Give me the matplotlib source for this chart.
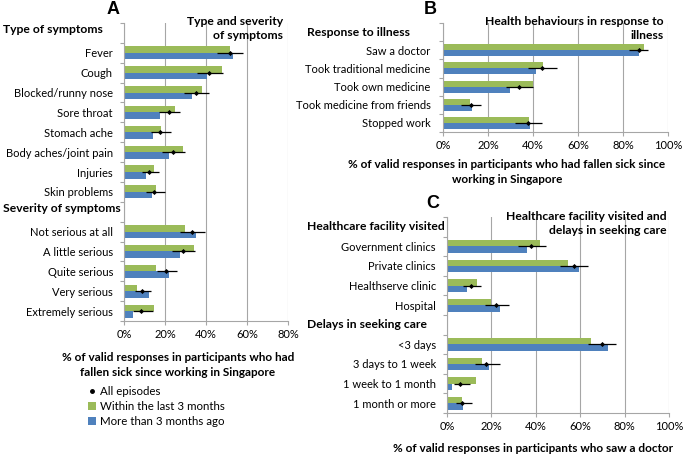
import matplotlib.pyplot as plt
from matplotlib.lines import Line2D
from matplotlib.patches import Patch
from matplotlib.ticker import FuncFormatter, MultipleLocator
from matplotlib.transforms import blended_transform_factory

plt.rcParams["font.family"] = ["Lato", "DejaVu Sans"]

GREEN = "#9bbb59"
BLUE = "#4f81bd"
GRID = "#a6a6a6"

# ---- Panel A: type and severity of symptoms (%)
a_type_cats = ["Fever", "Cough", "Blocked/runny nose", "Sore throat", "Stomach ache",
               "Body aches/joint pain", "Injuries", "Skin problems"]
a_type_recent = [51.7, 47.6, 38.0, 24.9, 18.2, 28.8, 14.5, 15.4]
a_type_older = [53.3, 40.7, 33.3, 17.6, 14.3, 22.1, 10.9, 13.8]
a_type_all = [51.7, 41.6, 35.1, 21.8, 17.6, 24.0, 12.4, 14.6]
a_type_lo = [45.5, 35.8, 29.4, 16.9, 13.0, 18.7, 8.6, 10.6]
a_type_hi = [57.9, 48.1, 41.6, 27.3, 22.8, 29.8, 17.1, 19.8]

a_sev_cats = ["Not serious at all", "A little serious", "Quite serious",
              "Very serious", "Extremely serious"]
a_sev_recent = [29.8, 34.3, 15.4, 6.2, 14.5]
a_sev_older = [35.0, 27.5, 21.8, 12.0, 4.2]
a_sev_all = [33.3, 28.6, 20.3, 8.9, 8.5]
a_sev_lo = [27.3, 23.4, 15.9, 5.4, 4.6]
a_sev_hi = [39.3, 34.6, 25.9, 13.0, 14.0]

# ---- Panel B: health behaviours (%)
b_cats = ["Saw a doctor", "Took traditional medicine", "Took own medicine",
          "Took medicine from friends", "Stopped work"]
b_recent = [89.2, 44.4, 40.0, 11.9, 38.1]
b_older = [87.0, 41.2, 29.9, 13.0, 38.5]
b_all = [87.1, 44.0, 33.6, 12.3, 37.9]
b_lo = [82.5, 37.8, 27.9, 8.1, 31.9]
b_hi = [91.1, 50.7, 40.0, 17.0, 44.1]

# ---- Panel C: facility visited and delays (%)
c_fac_cats = ["Government clinics", "Private clinics", "Healthserve clinic", "Hospital"]
c_fac_recent = [42.0, 54.5, 13.7, 19.7]
c_fac_older = [36.0, 59.3, 9.2, 23.9]
c_fac_all = [38.0, 57.0, 11.0, 21.9]
c_fac_lo = [32.0, 50.9, 7.2, 16.9]
c_fac_hi = [44.7, 63.7, 15.5, 27.9]

c_del_cats = ["<3 days", "3 days to 1 week", "1 week to 1 month", "1 month or more"]
c_del_recent = [65.0, 15.6, 13.2, 6.8]
c_del_older = [72.7, 18.9, 2.1, 7.1]
c_del_all = [69.8, 17.7, 6.0, 6.9]
c_del_lo = [63.5, 12.5, 3.0, 3.9]
c_del_hi = [76.3, 23.7, 10.2, 11.3]

W, H = 685, 454
fig = plt.figure(figsize=(W / 100, H / 100), dpi=100)


def px_axes(x0, y0, x1, y1):
    return fig.add_axes([x0 / W, 1 - y1 / H, (x1 - x0) / W, (y1 - y0) / H])


def draw_panel(ax, sections, xmax, header_x, label_pad, header_dy):
    rows, labels = [], []
    r = 0
    tr = blended_transform_factory(fig.transFigure, ax.transData)
    for header, cats, recent, older, allv, lo, hi in sections:
        ax.text(header_x / W, r + header_dy, header, transform=tr, ha="left",
                va="center", fontsize=8.7, fontweight="bold")
        r += 1
        ys = list(range(r, r + len(cats)))
        ax.barh([y - 0.165 for y in ys], recent, height=0.33, color=GREEN, zorder=2)
        ax.barh([y + 0.165 for y in ys], older, height=0.33, color=BLUE, zorder=2)
        ax.hlines(ys, lo, hi, color="black", lw=0.9, zorder=3)
        ax.plot(allv, ys, "D", color="black", ms=2.6, mew=0, zorder=4)
        rows += ys
        labels += cats
        r += len(cats)
    ax.set_ylim(r - 0.5, -0.5)
    ax.set_xlim(0, xmax)
    ax.set_yticks(rows, labels)
    ax.set_yticks([i - 0.5 for i in range(r + 1)], minor=True)
    ax.tick_params(axis="y", which="major", length=0, pad=label_pad, labelsize=8)
    ax.tick_params(axis="y", which="minor", length=3, color=GRID, width=0.8)
    ax.xaxis.set_major_locator(MultipleLocator(20))
    ax.xaxis.set_major_formatter(FuncFormatter(lambda v, _: f"{v:.0f}%"))
    ax.tick_params(axis="x", length=3, color=GRID, width=0.8, labelsize=8, pad=3)
    ax.grid(axis="x", color=GRID, lw=0.8, zorder=0)
    ax.set_axisbelow(True)
    for s in ("top", "right"):
        ax.spines[s].set_visible(False)
    for s in ("left", "bottom"):
        ax.spines[s].set_color(GRID)
        ax.spines[s].set_linewidth(0.8)


ax_a = px_axes(124, 23, 288, 321)
draw_panel(ax_a, [
    ("Type of symptoms", a_type_cats, a_type_recent, a_type_older, a_type_all, a_type_lo, a_type_hi),
    ("Severity of symptoms", a_sev_cats, a_sev_recent, a_sev_older, a_sev_all, a_sev_lo, a_sev_hi),
], 80, 3, 8, -0.15)

ax_b = px_axes(443, 23, 668, 132)
draw_panel(ax_b, [
    ("Response to illness", b_cats, b_recent, b_older, b_all, b_lo, b_hi),
], 100, 307, 9, 0)

ax_c = px_axes(447, 217, 669, 413)
draw_panel(ax_c, [
    ("Healthcare facility visited", c_fac_cats, c_fac_recent, c_fac_older, c_fac_all, c_fac_lo, c_fac_hi),
    ("Delays in seeking care", c_del_cats, c_del_recent, c_del_older, c_del_all, c_del_lo, c_del_hi),
], 100, 307, 8, 0)

# panel titles inside plot area
fig.text(283 / W, 1 - 16 / H, "Type and severity\nof symptoms", ha="right", va="top",
         fontsize=8.7, fontweight="bold", linespacing=1.3)
fig.text(664 / W, 1 - 16 / H, "Health behaviours in response to\nillness", ha="right",
         va="top", fontsize=8.7, fontweight="bold", linespacing=1.3)
fig.text(667 / W, 1 - 211 / H, "Healthcare facility visited and\ndelays in seeking care",
         ha="right", va="top", fontsize=8.7, fontweight="bold", linespacing=1.3)

# panel letters
for letter, x, y in (("A", 113, 10), ("B", 430, 9), ("C", 433, 203)):
    fig.text(x / W, 1 - y / H, letter, ha="center", va="center", fontsize=13,
             fontweight="bold", family="Liberation Sans")

# axis labels
fig.text(178 / W, 1 - 365 / H, "% of valid responses in participants who had\n"
         "fallen sick since working in Singapore", ha="center", va="center",
         fontsize=8.5, fontweight="bold", linespacing=1.35)
fig.text(507 / W, 1 - 172 / H, "% of valid responses in participants who had fallen sick since\n"
         "working in Singapore", ha="center", va="center", fontsize=8.5,
         fontweight="bold", linespacing=1.35)
fig.text(533 / W, 1 - 448 / H, "% of valid responses in participants who saw a doctor",
         ha="center", va="center", fontsize=8.5, fontweight="bold")

handles = [
    Line2D([], [], ls="none", marker="o", color="black", ms=2.5),
    Patch(facecolor=GREEN),
    Patch(facecolor=BLUE),
]
fig.legend(handles, ["All episodes", "Within the last 3 months", "More than 3 months ago"],
           loc="upper left", bbox_to_anchor=(88 / W, 1 - 386 / H), frameon=False,
           fontsize=8.3, handlelength=0.7, handleheight=0.7, handletextpad=0.35,
           labelspacing=0.35, borderaxespad=0, borderpad=0)

fig.savefig("out.png", dpi=100)
